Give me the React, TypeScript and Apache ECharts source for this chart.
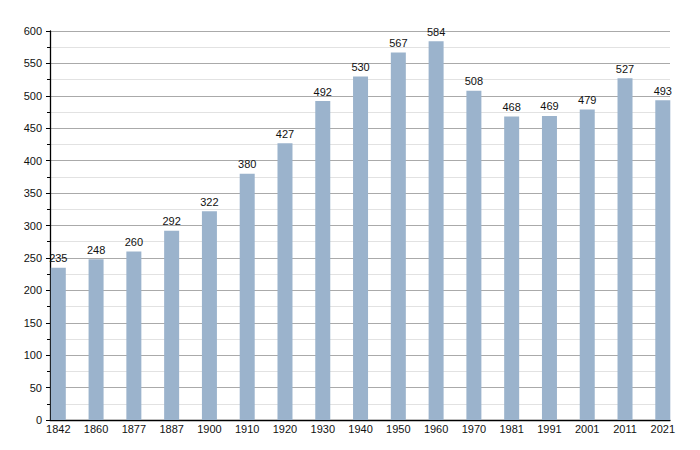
import React, { useEffect, useRef } from "react";
import * as echarts from "echarts";

const years = ["1842", "1860", "1877", "1887", "1900", "1910", "1920", "1930", "1940", "1950", "1960", "1970", "1981", "1991", "2001", "2011", "2021"];
const population = [235, 248, 260, 292, 322, 380, 427, 492, 530, 567, 584, 508, 468, 469, 479, 527, 493];
const yMin = 0;
const yMax = 600;
const yStep = 50;

const FONT = "'Liberation Sans', Arial, sans-serif";

export default function App() {
  const ref = useRef<HTMLDivElement>(null);
  useEffect(() => {
    if (!ref.current) return;
    const chart = echarts.init(ref.current, undefined, { renderer: "svg" });
    chart.setOption({
      animation: false,
      backgroundColor: "#ffffff",
      textStyle: { fontFamily: FONT },
      grid: [
        { left: 50, right: 30, top: 31, bottom: 30 },
        { left: 58.3, right: 37.2, top: 31, bottom: 30 },
      ],
      xAxis: [
        {
          gridIndex: 0,
          type: "category",
          data: years,
          boundaryGap: false,
          axisLine: { show: true, lineStyle: { color: "#000", width: 1.3 } },
          axisTick: { show: false },
          axisLabel: { show: false },
          splitLine: { show: false },
        },
        {
          gridIndex: 1,
          type: "category",
          data: years,
          boundaryGap: false,
          axisLine: { show: false },
          axisTick: { show: false },
          axisLabel: { show: true, color: "#111", fontSize: 11, margin: 3, fontFamily: FONT },
          splitLine: { show: false },
        },
      ],
      yAxis: [
        {
          gridIndex: 0,
          type: "value",
          min: yMin,
          max: yMax,
          interval: yStep,
          axisLine: { show: true, lineStyle: { color: "#000", width: 1.3 } },
          axisTick: { show: true, length: 4, lineStyle: { color: "#000" } },
          minorTick: { show: true, splitNumber: 2, length: 3, lineStyle: { color: "#000" } },
          axisLabel: { color: "#111", fontSize: 11, margin: 8, fontFamily: FONT },
          splitLine: { show: true, lineStyle: { color: "#aaaaaa", width: 1 } },
          minorSplitLine: { show: true, lineStyle: { color: "#e2e2e2", width: 1 } },
        },
        {
          gridIndex: 1,
          type: "value",
          min: yMin,
          max: yMax,
          interval: yStep,
          show: false,
          splitLine: { show: false },
        },
      ],
      series: [
        {
          type: "bar",
          xAxisIndex: 1,
          yAxisIndex: 1,
          data: population,
          barWidth: 15,
          itemStyle: { color: "#9bb3cc" },
          label: {
            show: true,
            position: "top",
            distance: 4,
            color: "#111",
            fontSize: 11,
            fontFamily: FONT,
          },
        },
      ],
    });
    return () => chart.dispose();
  }, []);
  return (
    <div
      ref={ref}
      style={{ position: "fixed", left: 0, top: 0, width: 700, height: 450, background: "#fff" }}
    />
  );
}
